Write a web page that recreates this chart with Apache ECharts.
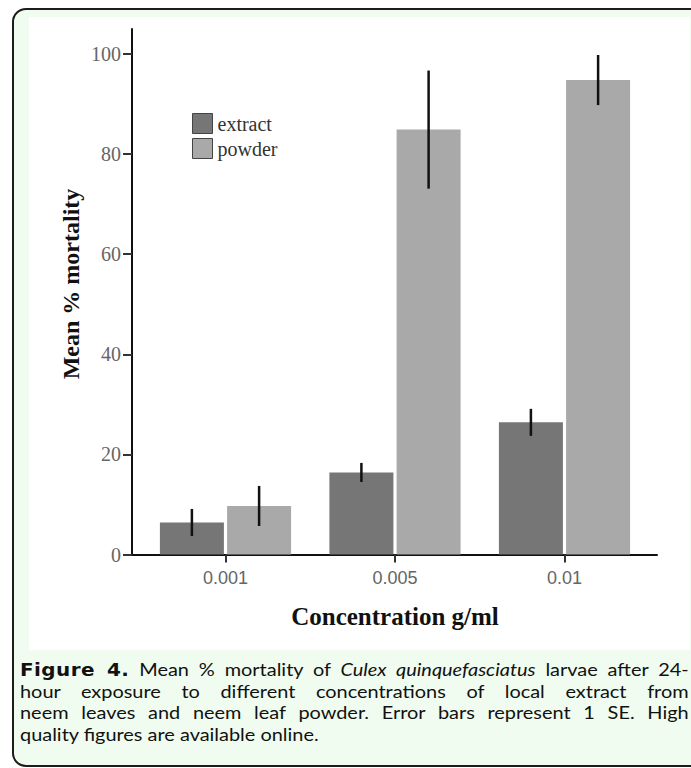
<!DOCTYPE html>
<html>
<head>
<meta charset="utf-8">
<script src="https://cdn.jsdelivr.net/npm/echarts@6/dist/echarts.min.js"></script>
<style>
  html, body { margin: 0; padding: 0; width: 691px; height: 768px; overflow: hidden; background: #ffffff; }
  #frame { position: absolute; left: 12px; top: 8px; width: 720px; height: 759px; box-sizing: border-box;
           border: 2px solid #1c1c1c; border-radius: 14px; background: #effcef; }
  #panel { position: absolute; left: 29px; top: 17px; width: 661px; height: 633px; background: #ffffff; }
  #chart { position: absolute; left: 0; top: 0; width: 691px; height: 768px; }
  #caption { position: absolute; left: 20px; top: 659px; width: 597px; font-family: Lato, "Noto Sans", sans-serif;
             font-size: 17.8px; line-height: 21.5px; color: #111; transform: scaleX(1.12); transform-origin: 0 0; }
  #caption .j { text-align: justify; text-align-last: justify; white-space: nowrap; }
  #caption b { font-family: "DejaVu Sans", sans-serif; font-weight: 700; letter-spacing: 0.4px; }
</style>
</head>
<body>
<div id="frame"></div>
<div id="panel"></div>
<div id="chart"></div>
<div id="caption">
  <div class="j"><b>Figure 4.</b> Mean % mortality of <i>Culex quinquefasciatus</i> larvae after 24-</div>
  <div class="j">hour exposure to different concentrations of local extract from</div>
  <div class="j">neem leaves and neem leaf powder. Error bars represent 1 SE. High</div>
  <div>quality figures are available online.</div>
</div>
<script>
// ---- data ----
const categories = ['0.001', '0.005', '0.01'];
const extractMean = [6.4, 16.4, 26.4];
const extractSE = [2.7, 1.9, 2.7];
const powderMean = [9.7, 84.9, 94.8];
const powderSE = [4.0, 11.8, 5.0];
const yTicks = [0, 20, 40, 60, 80, 100];
const seriesNames = ['extract', 'powder'];

// ---- style ----
const BAR_W = 64;
const BAR_GAP_PCT = 5;
const barOffset = (BAR_W + BAR_W * BAR_GAP_PCT / 100) / 2;

function errData(means, ses) {
  return means.map((m, i) => [i, m - ses[i], m + ses[i]]);
}
function errSeries(name, means, ses, sign) {
  return {
    type: 'custom', name: name + ' SE', xAxisIndex: 1, yAxisIndex: 1, z: 10,
    encode: { x: 0, y: [1, 2] },
    data: errData(means, ses),
    renderItem: function (params, api) {
      const i = api.value(0);
      const lo = api.coord([i, api.value(1)]);
      const hi = api.coord([i, api.value(2)]);
      const off = sign * barOffset;
      return { type: 'line', shape: { x1: lo[0] + off, y1: lo[1], x2: hi[0] + off, y2: hi[1] },
               style: { stroke: '#111', lineWidth: 2.5 } };
    }
  };
}

const chart = echarts.init(document.getElementById('chart'), null, { renderer: 'svg' });
const gridTop = 29, gridBottom = 213.5;
chart.setOption({
  backgroundColor: 'transparent',
  animation: false,
  legend: {
    data: seriesNames, orient: 'vertical', left: 192, top: 113, padding: 0,
    itemWidth: 20, itemHeight: 20, itemGap: 4, icon: 'rect',
    itemStyle: { borderColor: '#444', borderWidth: 1 },
    textStyle: { fontFamily: 'Liberation Serif', fontSize: 20, color: '#333' }
  },
  grid: [
    { left: 132, right: 34, top: gridTop, bottom: gridBottom },
    { left: 140.75, right: 41.75, top: gridTop, bottom: gridBottom }
  ],
  xAxis: [
    { gridIndex: 0, type: 'value', min: 0, max: 1,
      axisLine: { show: true, lineStyle: { color: '#111', width: 2 } },
      axisTick: { show: false }, axisLabel: { show: false }, splitLine: { show: false } },
    { gridIndex: 1, type: 'category', data: categories,
      axisLine: { show: false },
      axisTick: { show: true, alignWithLabel: true, length: 8, lineStyle: { color: '#333', width: 2 } },
      axisLabel: { fontFamily: 'Liberation Sans', fontSize: 18, color: '#666', margin: 14 },
      name: 'Concentration g/ml', nameLocation: 'middle', nameGap: 49,
      nameTextStyle: { fontFamily: 'Liberation Serif', fontWeight: 'bold', fontSize: 25, color: '#111' } }
  ],
  yAxis: [
    { gridIndex: 0, type: 'value', min: 0, max: 105,
      axisLine: { show: true, lineStyle: { color: '#111', width: 2 } },
      axisTick: { show: true, length: 9, customValues: yTicks, lineStyle: { color: '#333', width: 2 } },
      axisLabel: { customValues: yTicks, fontFamily: 'Liberation Serif', fontSize: 20, color: '#666', margin: 11 },
      splitLine: { show: false } },
    { gridIndex: 1, type: 'value', min: 0, max: 105, show: false, splitLine: { show: false } }
  ],
  graphic: [
    { type: 'text', x: 71, y: 284, rotation: Math.PI / 2,
      style: { text: 'Mean % mortality', font: 'bold 24px "Liberation Serif"', fill: '#111',
               align: 'center', verticalAlign: 'middle' } }
  ],
  series: [
    { type: 'bar', name: seriesNames[0], xAxisIndex: 1, yAxisIndex: 1, data: extractMean,
      barWidth: BAR_W, barGap: BAR_GAP_PCT + '%', itemStyle: { color: '#767676' } },
    { type: 'bar', name: seriesNames[1], xAxisIndex: 1, yAxisIndex: 1, data: powderMean,
      barWidth: BAR_W, barGap: BAR_GAP_PCT + '%', itemStyle: { color: '#a9a9a9' } },
    errSeries(seriesNames[0], extractMean, extractSE, -1),
    errSeries(seriesNames[1], powderMean, powderSE, 1)
  ]
});
</script>
</body>
</html>
